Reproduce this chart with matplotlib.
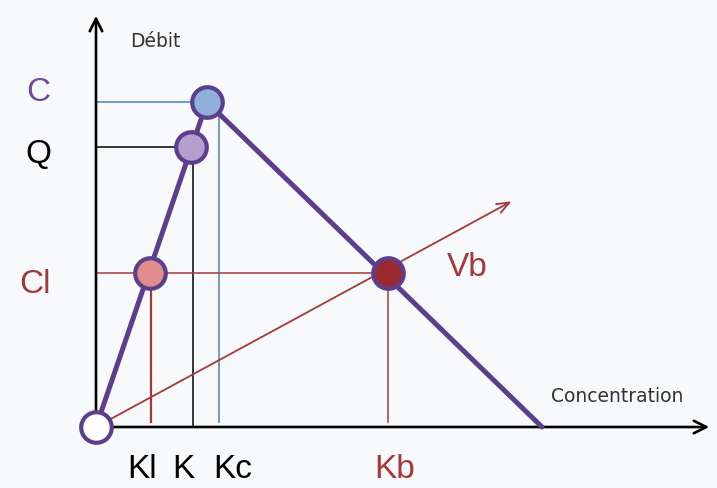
import matplotlib
matplotlib.use("Agg")
import matplotlib.pyplot as plt

# Data (concentration, flow) in diagram units, origin at axes crossing
k_low, k_q, k_c, k_b, k_jam = 54, 95, 111, 292, 446
k_c_guide = 123
q_low, q_q, q_cap = 154, 280, 325
vb_end = (418, 227)

k_labels = ["Kl", "K", "Kc", "Kb"]
k_label_x = [46, 87, 137, 299]
q_labels = ["C", "Q", "Cl"]

purple = "#5b3f8e"
red = "#a23a3c"
blue = "#4f7fb8"
bg = "#f8f9fb"

fig = plt.figure(figsize=(7.17, 4.89), dpi=100, facecolor=bg)
ax = fig.add_axes([0, 0, 1, 1])
ax.set_facecolor(bg)
ax.set_xlim(-96, 621)
ax.set_ylim(-61, 428)
ax.axis("off")

# axes with arrows
ax.annotate("", xy=(616, 0), xytext=(0, 0),
            arrowprops=dict(arrowstyle="->,head_length=0.9,head_width=0.45", color="black", lw=1.9))
ax.annotate("", xy=(0, 414), xytext=(0, 0),
            arrowprops=dict(arrowstyle="->,head_length=0.9,head_width=0.45", color="black", lw=1.9))

# guide lines
ax.plot([0, k_c], [q_cap, q_cap], color=blue, lw=1.1, zorder=2)
ax.plot([k_c_guide, k_c_guide], [5, q_cap - 10], color=blue, lw=1.1, zorder=2)
ax.plot([0, k_q], [q_q, q_q], color="black", lw=1.1, zorder=2)
ax.plot([k_q + 2, k_q + 2], [0, q_q], color="black", lw=1.1, zorder=2)
ax.plot([0, k_b], [q_low, q_low], color=red, lw=1.1, zorder=2)
ax.plot([k_low + 1, k_low + 1], [5, q_low], color=red, lw=1.6, zorder=2)
ax.plot([k_b, k_b], [5, q_low], color=red, lw=1.1, zorder=2)

# Vb line with arrow
ax.annotate("", xy=vb_end, xytext=(0, 0),
            arrowprops=dict(arrowstyle="->,head_length=0.9,head_width=0.35", color=red, lw=1.3),
            zorder=3)

# fundamental diagram
ax.plot([0, k_c, k_jam], [0, q_cap, 0], color=purple, lw=3.6, solid_capstyle="round", zorder=4)

# points
pts = [(0, 0, "white"), (k_low, q_low, "#e08c8a"), (k_q, q_q, "#b29fcb"),
       (k_c, q_cap, "#8fb1d9"), (k_b, q_low, "#9b2a30")]
for x, y, fc in pts:
    ax.plot(x, y, "o", ms=22, mfc=fc, mec=purple, mew=3, zorder=5)

# labels
lab_font = dict(fontsize=24, family="Liberation Sans", ha="center", va="center")
ax.text(-58, 335, q_labels[0], color="#6e4e9c", **lab_font)
ax.text(-58, 273, q_labels[1], color="black", **lab_font)
ax.text(-61, 143, q_labels[2], color=red, **lab_font)
for lab, x in zip(k_labels, k_label_x):
    ax.text(x, -42, lab, color=red if lab == "Kb" else "black", **lab_font)
ax.text(371, 160, "Vb", color=red, **lab_font)
ax.text(59, 386, "Débit", fontsize=13.5, color="#333333", ha="center", va="center")
ax.text(521, 31, "Concentration", fontsize=13.5, color="#333333", ha="center", va="center")

fig.savefig("out.png", dpi=100, facecolor=bg)
